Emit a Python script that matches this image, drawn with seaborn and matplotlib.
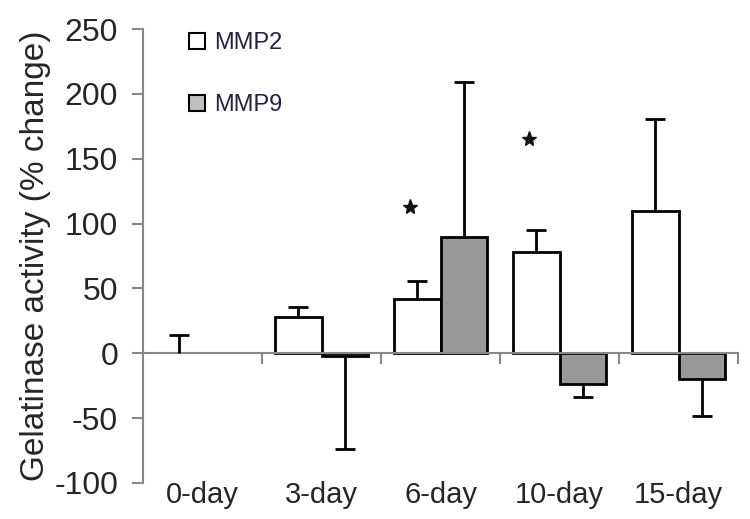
import numpy as np
import pandas as pd
import seaborn as sns
import matplotlib.pyplot as plt
from matplotlib import font_manager
from matplotlib.lines import Line2D

# values (% change)
days = ['0-day', '3-day', '6-day', '10-day', '15-day']
mmp2 = [0, 28, 42, 78, 110]
mmp2_err = [14, 8, 14, 17, 71]
mmp9 = [0, -2, 90, -24, -20]
mmp9_err = [0, 72, 119, 10, 28]
star_y = [None, None, 113, 165, None]  # significance marks above MMP2

sns.set_style('white')
plt.rcParams['font.family'] = ['Liberation Sans', 'DejaVu Sans']
plt.rcParams['axes.unicode_minus'] = False

names = {f.name for f in font_manager.fontManager.ttflist}
narrow = 'Liberation Sans Narrow' in names
xfont = 'Liberation Sans Narrow' if narrow else 'Liberation Sans'
xsize = 24 if narrow else 21

df = pd.DataFrame({'Day': days * 2,
                   'Value': mmp2 + mmp9,
                   'Enzyme': ['MMP2'] * len(days) + ['MMP9'] * len(days)})

fig = plt.figure(figsize=(7.5, 5.19), dpi=100)
ax = fig.add_axes([0.1907, 0.0694, 0.7933, 0.8747])

sns.barplot(data=df, x='Day', y='Value', hue='Enzyme', order=days,
            palette={'MMP2': 'white', 'MMP9': '#999999'}, width=0.78,
            edgecolor='black', linewidth=2, errorbar=None, ax=ax, legend=False)

# one-sided error bars, cap only at the far end
for cont, vals, errs in zip(ax.containers, [mmp2, mmp9], [mmp2_err, mmp9_err]):
    for bar, v, e in zip(cont, vals, errs):
        if v == 0:
            bar.set_linewidth(0)
        if e == 0:
            continue
        xc = bar.get_x() + bar.get_width() / 2
        yerr = [[0], [e]] if v >= 0 else [[e], [0]]
        eb = ax.errorbar(xc, v, yerr=yerr, fmt='none', ecolor='black',
                         elinewidth=2, capsize=7, capthick=2, zorder=3)
        caps = eb.lines[1]
        caps[0 if v >= 0 else 1].set_visible(False)

for bar, s in zip(ax.containers[0], star_y):
    if s is not None:
        ax.plot(bar.get_x() + bar.get_width() / 2 - 0.06, s, marker='*',
                ms=11, color='#111111', ls='none')

ax.set_ylim(-100, 250)
ax.set_xlim(-0.5, len(days) - 0.5)
ax.set_yticks(np.arange(-100, 251, 50))
ax.set_ylabel('Gelatinase activity (% change)', fontsize=24, labelpad=2)
ax.set_xlabel('')

for s in ['top', 'right']:
    ax.spines[s].set_visible(False)
ax.spines['left'].set_color('#888888')
ax.spines['left'].set_linewidth(1.5)
ax.spines['bottom'].set_position(('data', 0))
ax.spines['bottom'].set_color('#888888')
ax.spines['bottom'].set_linewidth(1.5)

ax.tick_params(axis='y', direction='out', length=8, width=1.5, color='#888888',
               labelsize=23, left=True, pad=10)
ax.set_xticks(np.arange(len(days)) + 0.5, minor=True)
ax.tick_params(axis='x', which='minor', direction='out', length=8, width=1.5,
               color='#888888', bottom=True)
ax.tick_params(axis='x', which='major', length=0, labelsize=xsize, pad=92)
for lab in ax.get_xticklabels():
    lab.set_fontfamily(xfont)

# legend as drawn in the original (square markers, no frame)
handles = [Line2D([], [], marker='s', ls='none', markersize=11, markerfacecolor=c,
                  markeredgecolor='black', markeredgewidth=1.5)
           for c in ['white', '#c0c0c0']]
ax.legend(handles, ['MMP2', 'MMP9'], loc='upper left', bbox_to_anchor=(0.035, 1.04),
          frameon=False, fontsize=17, labelspacing=1.7, handletextpad=0.25,
          handlelength=1.0, labelcolor='#222244')

fig.savefig('out.png', dpi=100)
